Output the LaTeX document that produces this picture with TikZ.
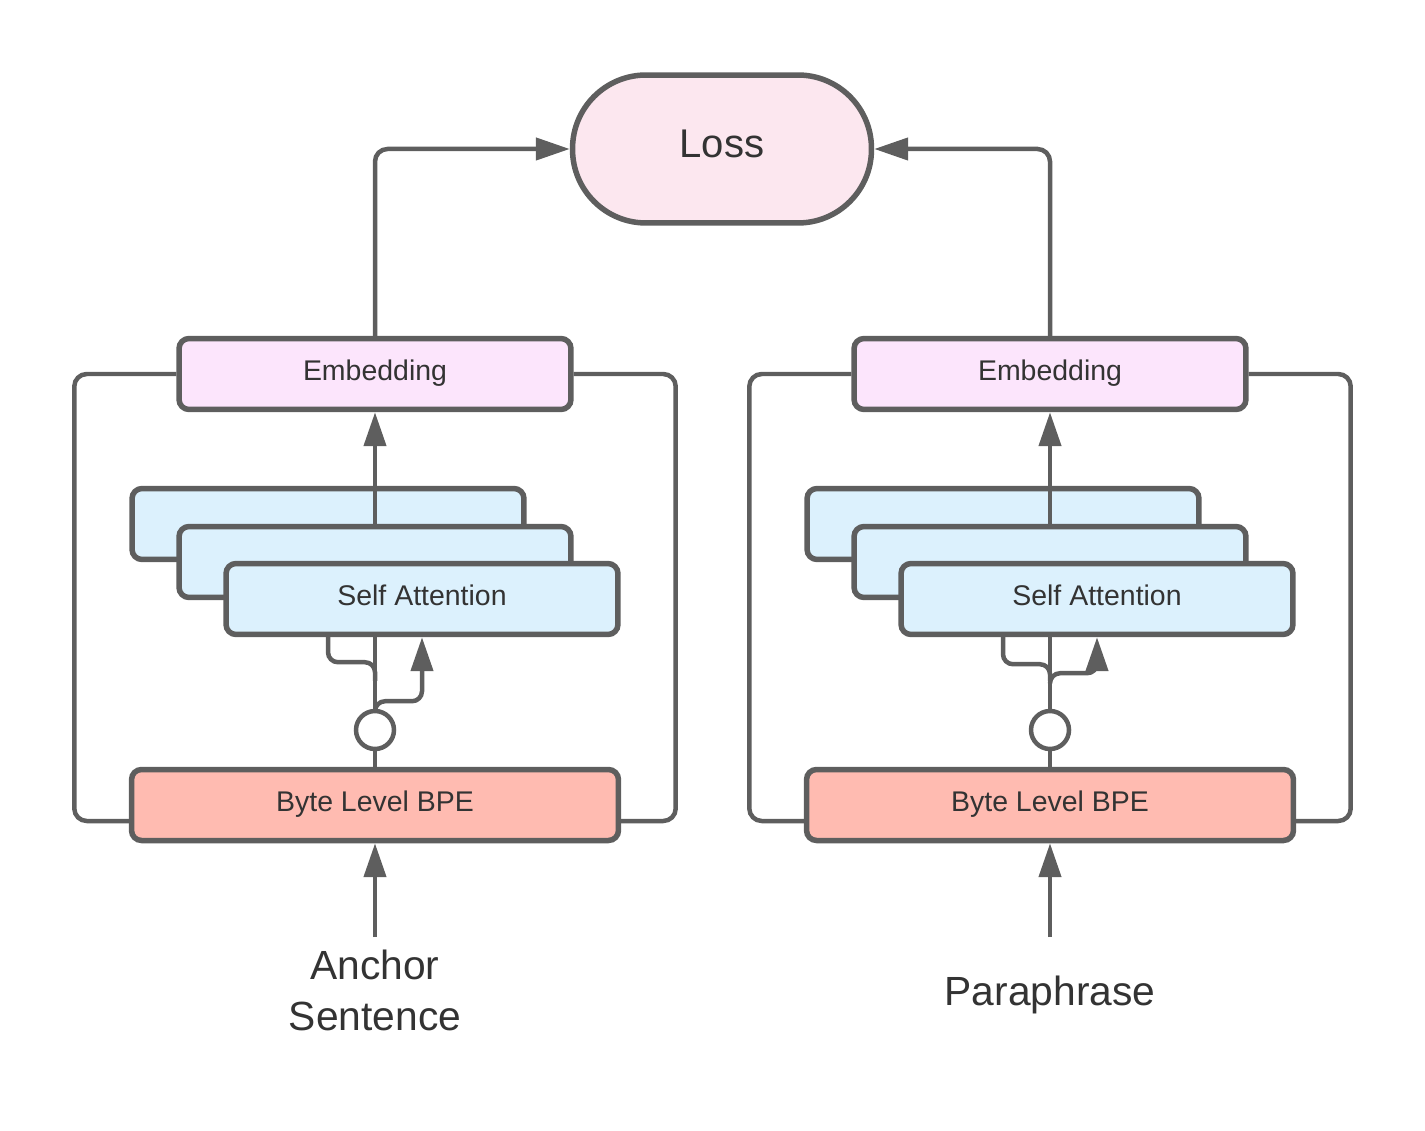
\documentclass[tikz,border=0pt]{standalone}
\usepackage{fontspec}
\setmainfont{Liberation Sans}
\usetikzlibrary{arrows.meta,positioning,calc}
\definecolor{edgec}{HTML}{5E5E5E}
\definecolor{txtc}{HTML}{333333}
\definecolor{lossc}{HTML}{FCE7EF}
\definecolor{embc}{HTML}{FCE5FC}
\definecolor{attc}{HTML}{DCF1FD}
\definecolor{bpec}{HTML}{FFBBB1}
\tikzset{
  box/.style={draw=edgec, line width=0.11cm, rounded corners=0.2cm, minimum width=7.84cm, minimum height=1.42cm, inner sep=0pt, text depth=0.14cm, text=txtc, font=\fontsize{16.2}{19}\selectfont},
  embbox/.style={box, fill=embc},
  attbox/.style={box, fill=attc},
  bpebox/.style={box, fill=bpec, minimum width=9.74cm},
  lossbox/.style={box, fill=lossc, minimum width=5.98cm, minimum height=2.96cm, rounded corners=1.47cm, text depth=0.2cm, font=\fontsize{22.8}{27}\selectfont},
  junc/.style={draw=edgec, circle, line width=0.09cm, fill=white, minimum size=0.76cm, inner sep=0pt},
  ln/.style={draw=edgec, line width=0.09cm},
  arr/.style={ln, -{Triangle[length=0.68cm, width=0.44cm]}},
  inp/.style={text=txtc, font=\fontsize{23.2}{29}\selectfont, align=center, inner sep=0pt},
}
\begin{document}
\begin{tikzpicture}[x=0.02cm,y=-0.02cm]
\useasboundingbox (0,0) rectangle (1425,1131);
\node[lossbox] (loss) at (722,149) {Loss};
% anchor branch
\node[embbox] (emb1) at (375,374) {Embedding};
\node[bpebox] (bpe1) at (375,805) {Byte Level BPE};
\node[junc] (c1) at (375,730) {};
\draw[ln] (c1) -- (bpe1);
\node[attbox] (sa1c) at (328,524) {};
\draw[arr] (c1) -- (emb1);
\node[attbox] (sa1b) at (375,562) {};
\node[attbox] (sa1) at (422,599) {Self Attention};
\draw[ln, rounded corners=0.2cm] ($(c1.north)+(0,-28)$) |- ($(sa1.south)+(-94,25)$) -- ($(sa1.south)+(-94,0)$);
\draw[arr, rounded corners=0.2cm] ($(c1.north)+(0,2)$) |- ($(sa1.south)+(0,64)$) -- (sa1.south);
\draw[ln, rounded corners=0.25cm] (emb1.west) -- ++(-102,0) |- ($(bpe1.west)+(0,16)$);
\draw[ln, rounded corners=0.25cm] (emb1.east) -- ++(102,0) |- ($(bpe1.east)+(0,16)$);
\draw[arr, rounded corners=0.25cm] (emb1.north) |- (loss.west);
\coordinate (a1) at (375,937);
\draw[arr] (a1) -- (bpe1);
\node[inp] (in1) at (375,990) {Anchor\\Sentence};
% paraphrase branch
\node[embbox] (emb2) at (1050,374) {Embedding};
\node[bpebox] (bpe2) at (1050,805) {Byte Level BPE};
\node[junc] (c2) at (1050,730) {};
\draw[ln] (c2) -- (bpe2);
\node[attbox] (sa2c) at (1003,524) {};
\draw[arr] (c2) -- (emb2);
\node[attbox] (sa2b) at (1050,562) {};
\node[attbox] (sa2) at (1097,599) {Self Attention};
\draw[ln, rounded corners=0.2cm] ($(c2.north)+(0,-28)$) |- ($(sa2.south)+(-94,27)$) -- ($(sa2.south)+(-94,0)$);
\draw[arr, rounded corners=0.2cm] ($(c2.north)+(0,-26)$) |- ($(sa2.south)+(0,36)$) -- (sa2.south);
\draw[ln, rounded corners=0.25cm] (emb2.west) -- ++(-102,0) |- ($(bpe2.west)+(0,16)$);
\draw[ln, rounded corners=0.25cm] (emb2.east) -- ++(102,0) |- ($(bpe2.east)+(0,16)$);
\draw[arr, rounded corners=0.25cm] (emb2.north) |- (loss.east);
\coordinate (a2) at (1050,937);
\draw[arr] (a2) -- (bpe2);
\node[inp] (in2) at (1050,995) {Paraphrase};
\end{tikzpicture}
\end{document}
